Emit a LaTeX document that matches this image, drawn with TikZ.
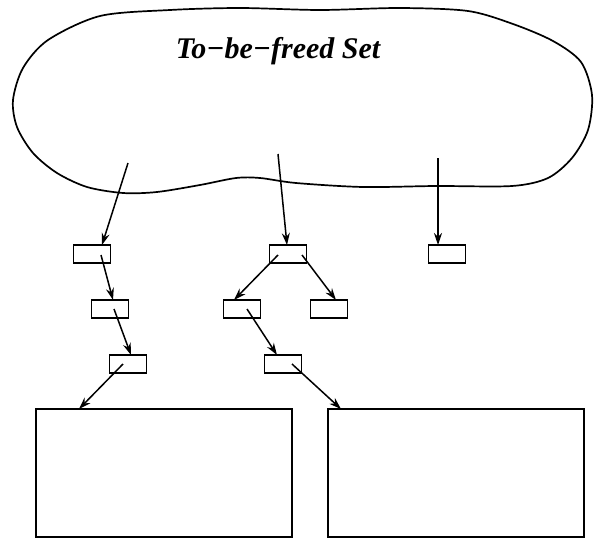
\documentclass[tikz,border=0pt]{standalone}
\usepackage{fontspec}
\setmainfont{Liberation Serif}
\usetikzlibrary{arrows.meta,calc}
\begin{document}
\begin{tikzpicture}[x=1pt,y=-1pt,line width=1.6pt,
  cell/.style={draw,minimum width=37pt,minimum height=18pt,inner sep=0pt,outer sep=0pt},
  bigbox/.style={draw,minimum width=256pt,minimum height=128pt,inner sep=0pt,outer sep=0pt},
  ptr/.style={line width=1.5pt,-{Stealth[length=12pt,width=8pt,inset=4pt]}},
  blob/.style={line width=1.7pt}]
\useasboundingbox (0,0) rectangle (596,538);
% the set
\draw[blob] plot[smooth cycle,tension=0.5] coordinates {
  (100,16) (170,10) (240,8) (320,10) (400,8) (468,11) (513,24) (553,41)
  (581,62) (592,95) (588,130) (572,158) (548,178) (512,186) (436,186)
  (363,187) (296,183) (260,178) (236,178) (200,185) (157,192) (123,193)
  (87,187) (57,173) (33,153) (17,127) (13,100) (23,68) (48,40)};
\node[anchor=base] (title) at (278,58) {\fontsize{30}{36}\selectfont\bfseries\itshape To−be−freed Set};
% cells
\node[cell] (A1) at (92,254) {};
\node[cell] (A2) at (110,309) {};
\node[cell] (A3) at (128,364) {};
\node[cell] (B1) at (288,254) {};
\node[cell] (B2) at (242,309) {};
\node[cell] (B3) at (329,309) {};
\node[cell] (B4) at (283,364) {};
\node[cell] (C1) at (447,254) {};
\node[bigbox] (L) at (164,473) {};
\node[bigbox] (R) at (456,473) {};
% free ends inside the set
\coordinate (s1) at (128,163);
\coordinate (s2) at (278,154);
\coordinate (s3) at (438,158);
% connectors
\draw[ptr] (s1) -- ($(A1.north)+(10,0)$);
\draw[ptr] (s2) -- ($(B1.north)+(-1,0)$);
\draw[ptr] (s3) -- ($(C1.north)+(-9,0)$);
\draw[ptr] ($(A1.center)+(9,1)$) -- ($(A2.north)+(3,0)$);
\draw[ptr] ($(A2.center)+(4,0)$) -- ($(A3.north)+(3,0)$);
\draw[ptr] ($(A3.center)+(-5,0)$) -- ($(L.north west)+(43,0)$);
\draw[ptr] ($(B1.center)+(-10,1)$) -- ($(B2.north)+(-8,0)$);
\draw[ptr] ($(B1.center)+(14,1)$) -- ($(B3.north)+(7,0)$);
\draw[ptr] ($(B2.center)+(5,0)$) -- ($(B4.north)+(-6,0)$);
\draw[ptr] ($(B4.center)+(9,0)$) -- ($(R.north west)+(13,0)$);
\end{tikzpicture}
\end{document}
